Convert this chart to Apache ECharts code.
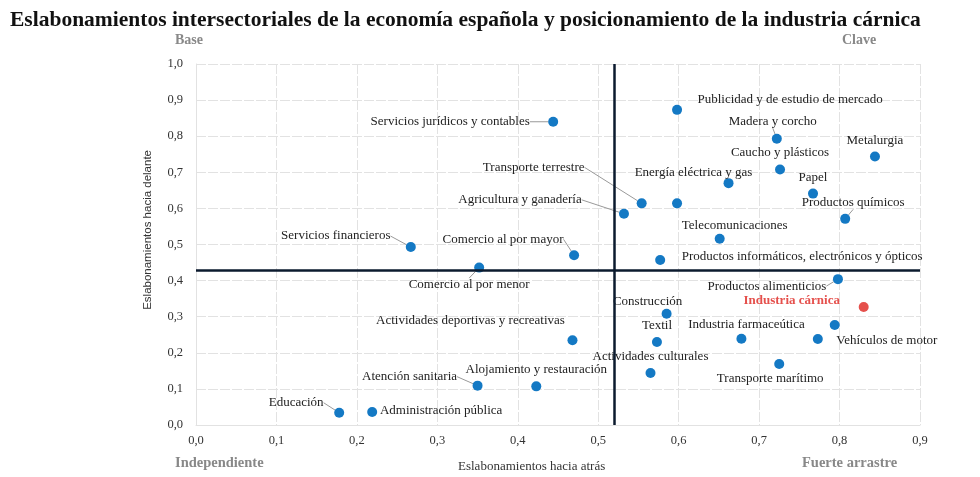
<!DOCTYPE html>
<html>
<head>
<meta charset="utf-8">
<script src="https://cdn.jsdelivr.net/npm/echarts@6/dist/echarts.min.js"></script>
<style>
  html, body { margin: 0; padding: 0; background: #fff; }
  #chart { width: 980px; height: 477px; }
</style>
</head>
<body>
<div id="chart"></div>
<script>
// Sectores: eslabonamientos hacia atrás (x) y hacia delante (y)
const sectors = [
  "Publicidad y de estudio de mercado", "Servicios jurídicos y contables", "Madera y corcho",
  "Metalurgia", "Caucho y plásticos", "Energía eléctrica y gas", "Papel", "Transporte terrestre",
  "", "Agricultura y ganadería", "Productos químicos", "Telecomunicaciones", "Comercio al por mayor",
  "Productos informáticos, electrónicos y ópticos", "Comercio al por menor", "Servicios financieros",
  "Productos alimenticios", "Industria cárnica", "Construcción", "Textil", "Industria farmaceútica",
  "", "Vehículos de motor", "Actividades deportivas y recreativas", "Actividades culturales",
  "Transporte marítimo", "Alojamiento y restauración", "Atención sanitaria", "Educación",
  "Administración pública"
];
const backward = [
  0.598, 0.444, 0.722, 0.844, 0.726, 0.662, 0.767, 0.554,
  0.598, 0.532, 0.807, 0.651, 0.470,
  0.577, 0.352, 0.267,
  0.798, 0.830, 0.585, 0.573, 0.678,
  0.794, 0.773, 0.468, 0.565,
  0.725, 0.423, 0.350, 0.178,
  0.219
];
const forward = [
  0.873, 0.840, 0.793, 0.744, 0.708, 0.670, 0.641, 0.614,
  0.614, 0.585, 0.571, 0.516, 0.470,
  0.457, 0.436, 0.493,
  0.404, 0.327, 0.308, 0.230, 0.239,
  0.277, 0.238, 0.235, 0.144,
  0.169, 0.107, 0.109, 0.034,
  0.036
];
const highlighted = "Industria cárnica";
const meanBackward = 0.515;
const meanForward = 0.427;
const xTicks = ["0,0", "0,1", "0,2", "0,3", "0,4", "0,5", "0,6", "0,7", "0,8", "0,9"];
const yTicks = ["0,0", "0,1", "0,2", "0,3", "0,4", "0,5", "0,6", "0,7", "0,8", "0,9", "1,0"];

// desplazamiento de cada etiqueta respecto al punto [dx, dy, con línea guía]
const labelShift = [
  [113, -10, 0], [-103, 0, 1], [-4, -17, 1], [0, -16, 0], [0, -17, 0], [-35, -11, 0], [0, -16, 0], [-108, -36, 1],
  [0, 0, 0], [-104, -14, 1], [8, -16, 1], [15, -13, 0], [-71, -16, 1],
  [142, -3, 0], [-10, 17, 1], [-75, -11, 1],
  [-71, 7, 1], [-72, -6, 0], [-19, -12, 0], [0, -16, 0], [5, -14, 0],
  [0, 0, 0], [69, 1, 0], [-102, -20, 0], [0, -16, 0],
  [-9, 15, 0], [0, -17, 0], [-68, -9, 1], [-43, -10, 1],
  [69, -1, 0]
];

const FONT = "'Liberation Serif', 'DejaVu Serif', serif";
const SANS = "'Liberation Sans', Arial, sans-serif";
const BLUE = "#1479c4";
const RED = "#e5504c";

const points = sectors.map((name, i) => {
  const hot = name === highlighted;
  return {
    name,
    value: [backward[i], forward[i]],
    itemStyle: { color: hot ? RED : BLUE },
    label: hot ? { color: RED, fontWeight: "bold" } : {},
    labelLine: { show: labelShift[i][2] === 1 }
  };
});

const chart = echarts.init(document.getElementById("chart"));
chart.setOption({
  animation: false,
  textStyle: { fontFamily: FONT },
  title: {
    text: "Eslabonamientos intersectoriales de la economía española y posicionamiento de la industria cárnica",
    left: 5, top: 4,
    textStyle: { fontFamily: FONT, fontSize: 21.5, fontWeight: "bold", color: "#111" }
  },
  grid: { left: 196, right: 60, top: 64, bottom: 52 },
  xAxis: {
    type: "value", min: 0, max: 0.9, interval: 0.1,
    axisLine: { show: true, lineStyle: { color: "#e2e2e2" } },
    axisTick: { show: false },
    axisLabel: { color: "#333", fontSize: 12.5, margin: 9, formatter: (v) => xTicks[Math.round(v * 10)] },
    splitLine: { show: true, lineStyle: { color: "#e2e2e2", type: [10, 2] } }
  },
  yAxis: {
    type: "value", min: 0, max: 1, interval: 0.1,
    axisLine: { show: true, lineStyle: { color: "#e2e2e2" } },
    axisTick: { show: false },
    axisLabel: { color: "#333", fontSize: 12.5, margin: 13, formatter: (v) => yTicks[Math.round(v * 10)] },
    splitLine: { show: true, lineStyle: { color: "#e2e2e2", type: [10, 2] } }
  },
  graphic: [
    { type: "text", left: 175, top: 33, style: { text: "Base", fill: "#888", font: "bold 14px " + FONT } },
    { type: "text", left: 842, top: 33, style: { text: "Clave", fill: "#888", font: "bold 14px " + FONT } },
    { type: "text", left: 175, top: 456, style: { text: "Independiente", fill: "#888", font: "bold 14.5px " + FONT } },
    { type: "text", left: 802, top: 456, style: { text: "Fuerte arrastre", fill: "#888", font: "bold 14.5px " + FONT } },
    { type: "text", left: 458, top: 460, style: { text: "Eslabonamientos hacia atrás", fill: "#333", font: "13px " + FONT } },
    { type: "text", left: 142, top: 150, rotation: Math.PI / 2,
      style: { text: "Eslabonamientos hacia delante", fill: "#333", font: "11.5px " + SANS } }
  ],
  series: [
    {
      type: "scatter",
      silent: true,
      z: 1,
      data: [],
      markLine: {
        symbol: "none",
        silent: true,
        label: { show: false },
        lineStyle: { color: "#0b1a2e", width: 2.5, type: "solid" },
        data: [{ xAxis: meanBackward }, { yAxis: meanForward }]
      }
    },
    {
      type: "scatter",
      z: 3,
      symbolSize: 10,
      itemStyle: { opacity: 1 },
      data: points,
      label: {
        show: true,
        position: "inside",
        formatter: (p) => p.name,
        color: "#222",
        fontSize: 13,
        fontFamily: FONT
      },
      labelLine: { show: true, lineStyle: { color: "#999", width: 1 } },
      labelLayout: (p) => ({ dx: labelShift[p.dataIndex][0], dy: labelShift[p.dataIndex][1] })
    }
  ]
});
</script>
</body>
</html>
